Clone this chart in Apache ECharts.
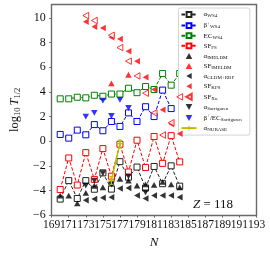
<!DOCTYPE html>
<html><head><meta charset="utf-8">
<script src="https://cdn.jsdelivr.net/npm/echarts@6/dist/echarts.min.js"></script>
<style>html,body{margin:0;padding:0;background:#fff}#c{width:270px;height:254px}</style>
</head><body><div id="c"></div>
<script>
// Neutron numbers
const N = [170,171,172,173,174,175,176,177,178,179,180,181,182,183,184];
// log10 T1/2 values (null = not shown)
const alphaWS4    = [-4.7,-3.2,-4.65,-3.2,-3.9,-2.57,-3.89,-1.66,-2.92,-2.1,-3.8,-2.05,-3.45,-2.0,-3.65];
const betaWS4     = [0.55,0.25,0.9,0.52,1.35,0.85,1.6,1.2,2.3,1.6,2.8,2.0,4.15,2.65,null];
const ecWS4       = [3.44,3.44,3.57,3.52,3.73,3.65,3.83,3.83,4.3,3.94,4.44,4.2,5.5,4.55,5.5];
const sfFS        = [-3.92,-1.36,-3.56,-0.93,-3.1,-0.6,-2.84,-0.25,-2.5,0.08,-2.14,0.38,-1.8,0.45,-1.68];
const alphaIMELDM = [-4.42,-4.42,-5.05,-4.2,-3.62,-3.75,-3.35,-3.05,-3.2,-3.6,-3.5,-3.55,-3.3,-3.5,-3.75];
const sfIMELDM    = [null,null,null,null,null,null,4.7,null,5.4,null,null,null,null,null,null];
const alphaGLDM   = [null,null,null,-4.8,-4.7,-4.6,-4.55,-3.85,-3.8,-4.4,-4.65,-4.4,-4.4,-4.4,-4.55];
const sfKPS       = [null,null,null,9.7,9.3,9.2,8.45,8.3,7.3,6.5,5.2,4.2,2.55,1.4,0.6];
const sfXu        = [null,null,null,10.2,9.8,null,8.6,7.6,6.5,5.3,3.9,2.3,0.5,1.5,3.6];
const alphaSarr   = [null,null,null,-3.6,-3.2,-2.6,-3.5,null,-2.85,null,-4.15,null,null,null,null];
const betaSarr    = [null,null,null,2.0,2.3,3.3,2.05,3.35,2.7,null,null,null,null,null,null];
const nubase      = [null,null,null,null,null,null,-3.16,-0.2,null,null,null,null,null,null,null];
const nubaseLo    = [null,null,null,null,null,null,-3.5,-0.55,null,null,null,null,null,null,null];
const nubaseHi    = [null,null,null,null,null,null,-2.87,0.1,null,null,null,null,null,null,null];
const xTicks = {min:169, max:193, step:2};
const yTicks = {min:-6, max:11.1, step:2};

const pairs = arr => N.map((n,i)=>[n,arr[i]]).filter(p=>p[1]!=null);

const SER = 'Liberation Serif';
const TRI_UP = 'path://M5,0L10,9L0,9Z';
const TRI_DN = 'path://M0,0L10,0L5,9Z';
const TRI_LF = 'path://M0,5L9,0L9,10Z';
const legendRich = {
  aWS4:'{m|α}{s|WS4}', bWS4:'{m|β}{p|+}{s|WS4}', ecWS4:'{m|EC}{s|WS4}', sfFS:'{m|SF}{s|FS}',
  aIM:'{m|α}{s|IMELDM}', sfIM:'{m|SF}{s|IMELDM}', aGL:'{m|α}{s|GLDM+RBF}', sfKPS:'{m|SF}{s|KPS}',
  sfXu:'{m|SF}{s|Xu}', aSar:'{m|α}{s|Sarriguren}', bSar:'{m|β}{p|+}{m|/EC}{s|Sarriguren}', aNU:'{m|α}{s|NUBASE}'
};

const dashLine = (c)=>({type:'line', symbol:'rect', symbolSize:6, showSymbol:true,
  lineStyle:{color:c, width:1, type:[3.5,1.8]}, itemStyle:{color:'#fff', borderColor:c, borderWidth:1}, z:3});
const sc = (c, sym, hollow)=>({type:'scatter', symbol:sym, symbolSize:6.5, symbolKeepAspect:true,
  itemStyle: hollow ? {color:'#fff', borderColor:c, borderWidth:1} : {color:c}, z:4});

const series = [
  Object.assign(dashLine('#222'), {name:'aWS4', data:pairs(alphaWS4)}),
  Object.assign(dashLine('#0000ff'), {name:'bWS4', data:pairs(betaWS4)}),
  Object.assign(dashLine('#008000'), {name:'ecWS4', data:pairs(ecWS4)}),
  Object.assign(dashLine('#ff0000'), {name:'sfFS', data:pairs(sfFS)}),
  Object.assign(sc('#000',TRI_UP,false), {name:'aIM', data:pairs(alphaIMELDM)}),
  Object.assign(sc('#ff0000',TRI_UP,false), {name:'sfIM', data:pairs(sfIMELDM)}),
  Object.assign(sc('#000',TRI_LF,false), {name:'aGL', data:pairs(alphaGLDM)}),
  Object.assign(sc('#ff0000',TRI_LF,false), {name:'sfKPS', data:pairs(sfKPS)}),
  Object.assign(sc('#ff0000',TRI_LF,true), {name:'sfXu', data:pairs(sfXu)}),
  Object.assign(sc('#000',TRI_DN,false), {name:'aSar', data:pairs(alphaSarr)}),
  Object.assign(sc('#0000ff',TRI_DN,false), {name:'bSar', data:pairs(betaSarr)}),
  {name:'aNU', type:'line', data:pairs(nubase), symbol:'path://M4,0H6V4H10V6H6V10H4V6H0V4H4Z', symbolSize:6,
   lineStyle:{color:'#bfbf00', width:1.5}, itemStyle:{color:'#bfbf00'}, z:5},
  {name:'aNUerr', type:'custom', z:5,
   data: N.map((n,i)=>[n, nubaseLo[i], nubaseHi[i]]).filter(p=>p[1]!=null),
   renderItem:(params, api)=>{
     const lo = api.coord([api.value(0), api.value(1)]);
     const hi = api.coord([api.value(0), api.value(2)]);
     const st = {stroke:'#bfbf00', lineWidth:1.2};
     return {type:'group', children:[
       {type:'line', shape:{x1:lo[0],y1:lo[1],x2:hi[0],y2:hi[1]}, style:st},
       {type:'line', shape:{x1:lo[0]-2,y1:lo[1],x2:lo[0]+2,y2:lo[1]}, style:st},
       {type:'line', shape:{x1:hi[0]-2,y1:hi[1],x2:hi[0]+2,y2:hi[1]}, style:st}
     ]};
   }}
];

const legendData = [
  {name:'aWS4'},{name:'bWS4'},{name:'ecWS4'},{name:'sfFS'},
  {name:'aIM', icon:TRI_UP},{name:'sfIM', icon:TRI_UP},{name:'aGL', icon:TRI_LF},{name:'sfKPS', icon:TRI_LF},
  {name:'sfXu', icon:TRI_LF},{name:'aSar', icon:TRI_DN},{name:'bSar', icon:TRI_DN},{name:'aNU'}
];

const frame = {lineStyle:{color:'#6a6a6a', width:1.4}};
const chart = echarts.init(document.getElementById('c'), null, {renderer:'canvas'});
chart.setOption({
  animation:false,
  backgroundColor:'#fff',
  grid:{left:39, right:13.5, top:4.5, bottom:34, containLabel:false},
  xAxis:[
    {type:'value', min:xTicks.min, max:xTicks.max, interval:xTicks.step,
     axisLine:Object.assign({show:true, onZero:false}, frame), axisTick:{show:true, inside:false, length:2.5, lineStyle:{color:'#6a6a6a'}},
     splitLine:{show:false},
     axisLabel:{fontFamily:SER, fontSize:11.5, color:'#111', margin:4, hideOverlap:false, showMinLabel:true, showMaxLabel:true},
     name:'N', nameLocation:'middle', nameGap:18, nameTextStyle:{fontFamily:SER, fontStyle:'italic', fontSize:13, color:'#111'}},
    {type:'value', position:'top', min:xTicks.min, max:xTicks.max, axisLine:Object.assign({show:true, onZero:false}, frame),
     axisTick:{show:false}, axisLabel:{show:false}, splitLine:{show:false}}
  ],
  yAxis:[
    {type:'value', min:yTicks.min, max:yTicks.max, interval:yTicks.step,
     axisLine:Object.assign({show:true, onZero:false}, frame), axisTick:{show:true, inside:false, length:2.5, lineStyle:{color:'#6a6a6a'}},
     splitLine:{show:false}, 
     axisLabel:{fontFamily:SER, fontSize:12, color:'#111', margin:6, showMaxLabel:false,
       formatter:v=> (Math.abs(v-Math.round(v))>1e-6 || v>10) ? '' : (v<0 ? '\u2212'+(-v) : String(v))},
     name:'log{s|10}{i|T}{s|1/2}', nameLocation:'middle', nameGap:24,
     nameTextStyle:{fontFamily:SER, fontSize:12.5, color:'#111',
       rich:{s:{fontFamily:SER, fontSize:8.5, color:'#111', padding:[6,0,0,0]}, i:{fontFamily:SER, fontStyle:'italic', fontSize:12.5, color:'#111', padding:[0,0,0,2]}}}},
    {type:'value', position:'right', min:yTicks.min, max:yTicks.max, axisLine:Object.assign({show:true, onZero:false}, frame),
     axisTick:{show:false}, axisLabel:{show:false}, splitLine:{show:false}}
  ],
  legend:{
    data:legendData, orient:'vertical', left:178.5, top:8,
    itemWidth:15, itemHeight:6, itemGap:2.6, symbolKeepAspect:true,
    padding:[3,8,3,2], backgroundColor:'#fff', borderColor:'#d4d4d4', borderWidth:1, borderRadius:2,
    formatter:name=>legendRich[name],
    textStyle:{fontFamily:SER, fontSize:7, color:'#111', padding:[0,0,0,2],
      rich:{m:{fontFamily:SER, fontSize:7, color:'#111'},
            s:{fontFamily:SER, fontSize:5, color:'#111', padding:[3,0,0,0]},
            p:{fontFamily:SER, fontSize:5, color:'#111', padding:[0,0,4,0]}}}
  },
  graphic:[{type:'text', left:193, top:198,
    style:{text:'{i|Z} = 118', fontFamily:SER, fontSize:13, fill:'#111',
      rich:{i:{fontFamily:SER, fontStyle:'italic', fontSize:13, fill:'#111'}}}}],
  series:series
});
</script></body></html>
